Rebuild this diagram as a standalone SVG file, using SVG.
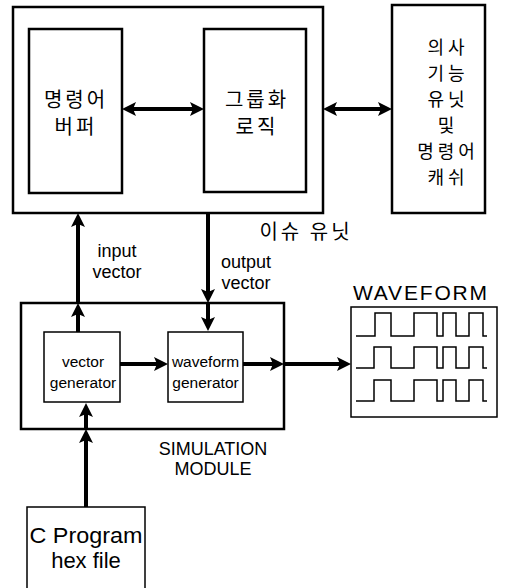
<svg xmlns="http://www.w3.org/2000/svg" width="509" height="588" viewBox="0 0 509 588">
<style>
.thick{fill:#fff;stroke:#000;stroke-width:2.5}
.thin{fill:#fff;stroke:#000;stroke-width:1.5}
.kr{font-family:"Noto Sans CJK KR","Liberation Sans",sans-serif;font-size:20px;letter-spacing:3px;fill:#000;text-anchor:middle}
.krs{font-size:18px;letter-spacing:4px}
.en{font-family:"Liberation Sans",Arial,sans-serif;fill:#000;text-anchor:middle}
.arr{fill:none;stroke:#000;stroke-width:4}
.wave{fill:none;stroke:#000;stroke-width:1.5}
</style>
<defs>
<marker id="ah" markerUnits="userSpaceOnUse" markerWidth="16" markerHeight="16" refX="6" refY="7" orient="auto-start-reverse">
<path d="M0,0 L14,7 L0,14 L3,7 Z" fill="#000"/>
</marker>
</defs>
<g id="issue-unit">
<rect class="thick" x="13" y="7" width="310" height="206"/>
<text class="kr" x="306" y="239">이슈 유닛</text>
</g>
<g id="instr-buffer">
<rect class="thick" x="29" y="29" width="93" height="164"/>
<text class="kr" x="76" y="107">명령어</text>
<text class="kr" x="76" y="134">버퍼</text>
</g>
<g id="group-logic">
<rect class="thick" x="204" y="29" width="102" height="163"/>
<text class="kr" x="257" y="107">그룹화</text>
<text class="kr" x="257" y="134">로직</text>
</g>
<g id="func-units">
<rect class="thick" x="392" y="5" width="93" height="208"/>
<text class="kr krs" x="448" y="54">의사</text>
<text class="kr krs" x="448" y="80">기능</text>
<text class="kr krs" x="448" y="106">유닛</text>
<text class="kr krs" x="448" y="132">및</text>
<text class="kr krs" x="448" y="158">명령어</text>
<text class="kr krs" x="448" y="184">캐쉬</text>
</g>
<g id="simulation-module">
<rect class="thick" x="21" y="303" width="263" height="126"/>
<text class="en" x="213" y="455" font-size="18">SIMULATION</text>
<text class="en" x="213" y="475" font-size="18">MODULE</text>
</g>
<g id="vector-generator">
<rect class="thin" x="44" y="332" width="76" height="70"/>
<text class="en" x="83" y="367" font-size="15.5">vector</text>
<text class="en" x="83" y="388" font-size="15.5">generator</text>
</g>
<g id="waveform-generator">
<rect class="thin" x="168" y="332" width="75" height="70"/>
<text class="en" x="205.5" y="367" font-size="15.5">waveform</text>
<text class="en" x="205.5" y="388" font-size="15.5">generator</text>
</g>
<g id="waveform">
<text class="en" x="420" y="300" font-size="21" textLength="134" lengthAdjust="spacing">WAVEFORM</text>
<rect class="thin" x="351" y="307" width="146" height="110"/>
<path class="wave" d="M356,336 H375 V313 H391 V336 H414 V313 H437 V336 H443 V313 H456 V336 H469 V313 H483 V336 H487"/>
<path class="wave" d="M356,368 H374 V347 H391 V368 H414 V347 H437 V368 H443 V347 H456 V368 H469 V347 H483 V368 H487"/>
<path class="wave" d="M356,401 H374 V380 H391 V401 H414 V380 H437 V401 H443 V380 H456 V401 H469 V380 H483 V401 H487"/>
</g>
<g id="c-program">
<rect class="thin" x="27" y="507" width="118" height="95"/>
<text class="en" x="86" y="543" font-size="22" textLength="113" lengthAdjust="spacingAndGlyphs">C Program</text>
<text class="en" x="86" y="568" font-size="22">hex file</text>
</g>
<g id="connectors">
<path class="arr" d="M130,109 L196,109" marker-start="url(#ah)" marker-end="url(#ah)"/>
<path class="arr" d="M331,109 L384,109" marker-start="url(#ah)" marker-end="url(#ah)"/>
<path class="arr" d="M78,332 L78,311" marker-end="url(#ah)"/>
<path class="arr" d="M78,303 L78,221" marker-end="url(#ah)"/>
<path class="arr" d="M208,213 L208,295" marker-end="url(#ah)"/>
<path class="arr" d="M208,303 L208,323" marker-end="url(#ah)"/>
<path class="arr" d="M86,507 L86,437" marker-end="url(#ah)"/>
<path class="arr" d="M86,429 L86,411" marker-end="url(#ah)"/>
<path class="arr" d="M120,364 L160,364" marker-end="url(#ah)"/>
<path class="arr" d="M243,364 L276,364" marker-end="url(#ah)"/>
<path class="arr" d="M284,364 L343,364" marker-end="url(#ah)"/>
<text class="en" x="117" y="257" font-size="18">input</text>
<text class="en" x="117" y="278" font-size="18">vector</text>
<text class="en" x="246" y="268" font-size="18">output</text>
<text class="en" x="246" y="289" font-size="18">vector</text>
</g>
</svg>
